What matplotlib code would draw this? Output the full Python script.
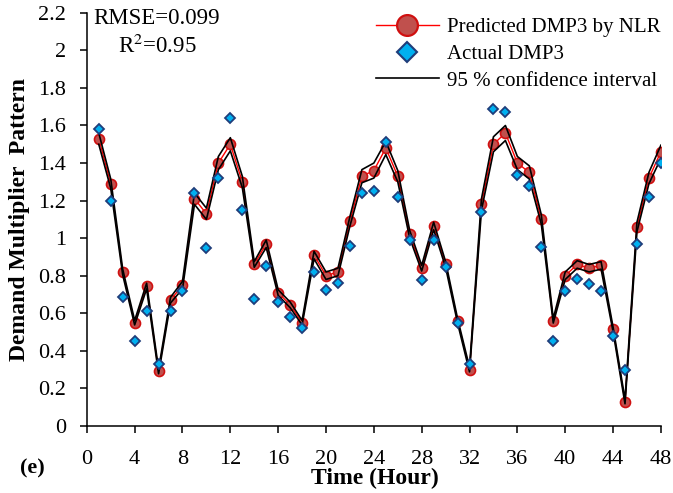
import matplotlib
matplotlib.use("Agg")
import matplotlib.pyplot as plt
from matplotlib.lines import Line2D

hours = list(range(1, 49))

predicted = [1.53, 1.29, 0.82, 0.55, 0.745, 0.29, 0.67, 0.75, 1.21, 1.13, 1.40, 1.50,
             1.30, 0.86, 0.97, 0.71, 0.645, 0.55, 0.91, 0.80, 0.82, 1.09, 1.33, 1.36,
             1.48, 1.33, 1.02, 0.84, 1.065, 0.86, 0.56, 0.30, 1.18, 1.50, 1.56, 1.40,
             1.35, 1.10, 0.56, 0.80, 0.86, 0.84, 0.855, 0.515, 0.13, 1.06, 1.32, 1.46]

actual = [1.58, 1.20, 0.685, 0.45, 0.61, 0.33, 0.61, 0.72, 1.24, 0.95, 1.32, 1.64,
          1.15, 0.675, 0.85, 0.66, 0.58, 0.52, 0.82, 0.725, 0.76, 0.96, 1.24, 1.25,
          1.51, 1.22, 0.99, 0.775, 0.99, 0.845, 0.55, 0.33, 1.14, 1.69, 1.67, 1.335,
          1.28, 0.955, 0.45, 0.72, 0.78, 0.755, 0.72, 0.48, 0.30, 0.97, 1.22, 1.40]

ci_upper = [1.56, 1.315, 0.835, 0.562, 0.76, 0.302, 0.685, 0.77, 1.24, 1.16, 1.435, 1.535,
            1.33, 0.875, 0.99, 0.725, 0.66, 0.562, 0.93, 0.82, 0.84, 1.115, 1.365, 1.40,
            1.515, 1.36, 1.04, 0.855, 1.085, 0.875, 0.572, 0.312, 1.21, 1.54, 1.60, 1.435,
            1.385, 1.125, 0.572, 0.82, 0.88, 0.86, 0.875, 0.527, 0.142, 1.085, 1.35, 1.495]

ci_lower = [1.50, 1.265, 0.805, 0.538, 0.73, 0.278, 0.655, 0.73, 1.18, 1.10, 1.365, 1.465,
            1.27, 0.845, 0.95, 0.695, 0.63, 0.538, 0.89, 0.78, 0.80, 1.065, 1.295, 1.32,
            1.445, 1.30, 1.00, 0.825, 1.045, 0.845, 0.548, 0.288, 1.15, 1.46, 1.52, 1.365,
            1.315, 1.075, 0.548, 0.78, 0.84, 0.82, 0.835, 0.503, 0.118, 1.035, 1.29, 1.425]

x_ticks = list(range(0, 49, 4))
y_ticks = [0, 0.2, 0.4, 0.6, 0.8, 1, 1.2, 1.4, 1.6, 1.8, 2, 2.2]
y_tick_labels = ["0", "0.2", "0.4", "0.6", "0.8", "1", "1.2", "1.4", "1.6", "1.8", "2", "2.2"]

RED_FILL = "#c0504d"
RED_EDGE = "#d01010"
BLUE_FILL = "#00b0f0"
BLUE_EDGE = "#1f3d7a"

plt.rcParams["font.family"] = ["Liberation Serif", "DejaVu Serif"]
plt.rcParams["mathtext.fontset"] = "stix"

fig = plt.figure(figsize=(6.73, 4.93), dpi=100)
ax = fig.add_axes([0.129, 0.136, 0.853, 0.838])

ax.plot(hours, predicted, color="red", lw=1.0, marker="o", ms=7.2,
        mfc=RED_FILL, mec=RED_EDGE, mew=1.2, zorder=2)
ax.plot(hours, ci_upper, color="black", lw=1.2, zorder=3)
ax.plot(hours, ci_lower, color="black", lw=1.2, zorder=3)
ax.plot(hours, actual, ls="none", marker="D", ms=5.2, mfc=BLUE_FILL,
        mec=BLUE_EDGE, mew=1.3, zorder=4)

ax.set_xlim(0, 48)
ax.set_ylim(0, 2.2)
ax.set_xticks(x_ticks)
ax.set_yticks(y_ticks)
ax.set_yticklabels(y_tick_labels)
ax.tick_params(axis="both", direction="out", length=5, width=1.1, labelsize=16)
ax.tick_params(axis="x", pad=12)
ax.tick_params(axis="y", pad=10)
for side in ("top", "right"):
    ax.spines[side].set_visible(False)
for side in ("left", "bottom"):
    ax.spines[side].set_linewidth(1.1)

ax.set_ylabel("Demand Multiplier  Pattern", fontsize=17, fontweight="bold", labelpad=6)
fig.text(0.557, 0.03, "Time (Hour)", fontsize=17, fontweight="bold",
         ha="center", va="center")
fig.text(0.03, 0.05, "(e)", fontsize=16, fontweight="bold", ha="left", va="center")

ax.text(0.122, 1.012, "RMSE=0.099\nR$^2$=0.95", transform=ax.transAxes,
        fontsize=16.5, ha="center", va="top", linespacing=1.3)

handles = [
    Line2D([], [], color="red", lw=1.0, marker="o", ms=15, mfc=RED_FILL,
           mec=RED_EDGE, mew=1.6),
    Line2D([], [], ls="none", marker="D", ms=10, mfc=BLUE_FILL, mec=BLUE_EDGE, mew=1.5),
    Line2D([], [], color="black", lw=1.2),
]
labels = ["Predicted DMP3 by NLR", "Actual DMP3", "95 % confidence interval"]
fig.legend(handles, labels, loc="upper right", bbox_to_anchor=(1.0, 0.99),
           frameon=False, fontsize=15, handlelength=3.0, handletextpad=0.4,
           labelspacing=0.35, borderaxespad=0.2)

fig.savefig("out.png", dpi=100, facecolor="white")
